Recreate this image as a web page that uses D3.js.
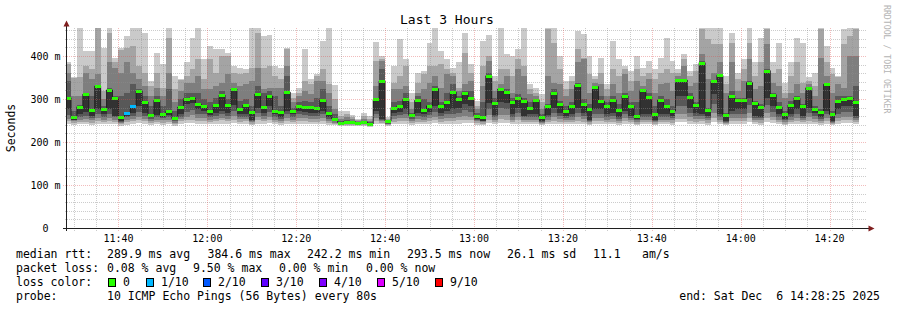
<!DOCTYPE html>
<html><head><meta charset="utf-8">
<script src="https://cdn.jsdelivr.net/npm/d3@7"></script>
<style>
body{margin:0;background:#fff}
text{font-family:"DejaVu Sans Mono",monospace;white-space:pre}
</style>
</head><body>
<svg id="c" width="897" height="310"></svg>
<script>
// ---------- data (ms) : 10 sorted pings per 80s step, p6 = median ----------
const med = [303,257,282,311,274,330,276,321,302,259,268,284,319,293,263,297,264,271,255,281,301,302,288,283,271,286,309,285,323,276,286,270,311,281,
307,272,270,316,272,284,282,282,280,298,268,254,245,247,247,245,247,242.2,299,342,249,280,284,299,262,297,274,284,324,284,292,316,301,315,
303,261,259,354,290,323,316,293,303,295,280,298,257,284,315,288,271,284,332,289,276,329,295,284,298,274,307,284,261,321,305,264,298,284,
272,344,344,305,285,384.6,274,341,355,263,307,298,298,338,290,282,366,310,281,264,286,302,284,326,276,270,334,264,296,299,302,293.5];
const p10 = [385,352,465,412,412,465,419,465,396,419,447,465,465,454,342,408,381,465,354,346,385,443,465,392,423,416,416,408,377,373,369,465,465,447,
448,377,373,419,315,326,416,346,357,435,465,332,272,272,262,253,268,261,433,400,257,377,439,392,315,361,365,431,465,412,392,373,385,454,
381,295,435,448,354,465,404,400,416,465,334,326,311,465,465,400,342,354,458,450,400,354,396,334,435,392,377,365,400,373,388,369,396,443,
388,369,404,365,381,465,465,465,465,354,454,361,392,465,385,443,465,385,431,338,385,443,431,352,361,465,423,373,354,462,465,465];
const p9 = [381,348,350,377,369,464,319,454,385,415,419,423,377,361,330,361,326,443,323,344,354,369,392,346,392,361,400,400,361,357,361,373,454,373,
377,354,346,417,303,315,342,334,354,369,334,299,261,264,257,250,261,253,388,392,253,338,354,377,292,338,357,377,377,381,369,361,326,408,
361,284,377,400,342,369,369,354,392,377,323,315,292,462,431,369,323,342,416,396,357,346,361,323,369,354,369,342,369,354,361,346,361,369,
361,361,392,354,365,462,439,427,427,334,431,346,369,431,354,385,462,361,369,315,354,385,338,342,330,462,385,357,350,427,447,462];
const p8 = [361,307,307,361,346,357,299,385,373,361,385,361,346,330,307,326,307,361,292,319,338,338,354,323,323,330,338,357,338,330,334,342,373,323,
326,326,326,377,292,307,319,311,342,342,315,276,253,257,253,248,253,249,330,388,251,323,323,330,276,315,323,338,354,326,357,354,319,334,
342,276,330,388,319,334,354,315,369,354,311,307,276,354,338,334,307,323,385,392,315,338,334,307,334,315,357,319,342,330,346,315,334,338,
319,354,377,330,338,404,346,361,385,315,385,319,342,392,323,330,427,338,330,303,315,334,315,334,307,396,354,315,334,326,400,400];
const p7 = [342,272,286,315,307,332,284,325,307,307,315,334,323,307,284,307,284,323,272,299,315,315,315,299,292,303,319,299,326,295,299,284,330,315,
319,307,284,354,280,292,295,292,303,323,284,264,249,250,249,247,249,247,303,369,250,292,295,315,268,307,299,292,330,292,315,334,307,319,
319,267,292,361,303,326,323,303,311,303,292,300,264,288,323,295,284,292,338,299,288,331,307,292,307,288,315,292,292,324,315,284,307,299,
284,346,346,315,292,388,280,344,358,268,319,303,303,342,295,288,369,315,292,272,295,307,288,329,284,276,338,272,307,307,307,330];
const p5 = [276,252,264,270,261,276,264,276,261,249,261,268,284,268,257,262,259,262,251,264,288,290,276,272,262,267,272,267,285,264,264,251,280,268,
284,264,257,272,264,272,270,267,267,272,257,251,243,244,244,243,244,241,272,253,245,267,270,276,257,267,264,270,284,267,272,276,280,288,
284,254,249,290,262,292,290,264,280,261,264,264,249,262,278,268,261,264,280,268,251,276,276,264,267,257,272,261,253,264,264,251,264,264,
261,307,307,280,267,265,261,311,264,249,272,276,276,303,261,259,303,284,264,253,264,276,261,280,267,257,272,249,276,284,284,261];
const p4 = [262,250,258,261,256,266,258,266,257,247,257,261,270,261,253,257,255,257,248,258,270,275,265,264,257,261,264,261,272,258,259,249,268,261,
270,258,253,264,258,264,263,260,260,264,253,248,241,242,242,241,242,240,264,250,243,260,263,266,253,260,258,263,270,260,264,266,268,274,
270,251,248,276,257,278,276,258,268,257,258,258,247,257,267,261,256,258,268,261,249,266,266,258,260,253,264,256,250,258,258,249,258,258,
256,284,284,268,260,260,256,288,258,247,264,266,266,286,256,255,286,270,258,250,258,266,256,268,260,253,264,247,266,270,270,256];
const p3 = [254,248,252,253,250,255,252,256,252,245,252,254,258,254,249,252,250,252,245,253,258,262,256,256,252,254,256,254,260,253,254,246,258,254,
258,252,249,255,252,255,255,253,253,255,249,245,240,241,241,240,241,239,255,248,242,253,255,256,249,253,252,255,258,253,255,256,258,260,
258,248,246,262,252,263,262,252,258,252,252,252,245,252,257,253,251,252,257,253,246,256,256,252,253,249,255,251,246,252,252,246,252,252,
250,266,266,257,253,254,250,268,252,245,255,256,256,268,251,250,268,258,252,246,252,256,251,257,253,249,255,245,256,258,258,251];
const p2 = [248,244,246,247,245,248,246,249,247,242,246,248,250,248,245,247,245,246,242,248,250,252,249,248,246,248,250,248,251,247,248,243,250,248,
250,246,245,248,246,248,248,247,247,248,245,242,239,239,240,239,240,238,248,245,240,247,248,249,245,247,246,248,250,247,248,249,250,251,
250,244,243,252,246,253,252,246,250,246,246,246,242,246,249,247,246,246,249,247,243,249,249,246,247,245,248,246,243,246,246,243,246,246,
245,254,254,249,247,248,245,255,246,242,248,249,249,255,246,245,255,250,246,243,246,249,246,249,247,245,248,242,249,250,250,246];
const p1 = [243,240,241,242,240,243,241,243,242,238,240,242,244,243,240,242,240,241,238,242,244,245,243,242,241,242,243,242,244,241,242,239,243,242,
244,241,240,242,241,242,242,242,242,242,240,239,237,237,238,237,238,236,242,241,238,242,242,243,240,242,241,242,244,242,242,243,243,244,
244,240,239,245,241,245,245,241,243,241,241,241,239,241,243,242,241,241,243,242,239,243,243,241,242,240,242,241,239,241,241,239,241,241,
240,246,246,243,242,242,240,246,241,239,242,243,243,246,241,240,246,244,241,239,241,243,241,243,242,240,242,239,243,244,244,241];
// lost pings per step (of 10)
const loss = [0,0,0,0,0,0,0,0,0,0,0.95,0.12];

const yTickValues = [0,100,200,300,400];
const yTickLabels = ["0  ","100 m","200 m","300 m","400 m"];
const xTickLabels = ["11:40","12:00","12:20","12:40","13:00","13:20","13:40","14:00","14:20"];
const lossLabels = ["0","1/10","2/10","3/10","4/10","5/10","9/10"];
const lossColors = ["#26ff00","#00b8ff","#0059ff","#5e00ff","#7e00ff","#dd00ff","#ff0000"];
const lossLimits = [0,1,2,3,4,5,10];
const rttStats = ["289.9 ms avg","384.6 ms max","242.2 ms min","293.5 ms now","26.1 ms sd","11.1","am/s"];
const lossStats = ["0.08 % avg","9.50 % max","0.00 % min","0.00 % now"];
const probeText = "10 ICMP Echo Pings (56 Bytes) every 80s";
const endText = "end: Sat Dec  6 14:28:25 2025";

// ---------- layout ----------
const L=67, R=867, T=28, B=228;
const start = new Date(2025,11,6,11,28,25), end = new Date(2025,11,6,14,28,25);
const x = d3.scaleTime().domain([start,end]).range([L,R]);
const y = d3.scaleLinear().domain([0,465.1]).range([B,T]);
const svg = d3.select("#c");
svg.append("rect").attr("width",897).attr("height",310).attr("fill","#fff");
svg.append("defs").append("clipPath").attr("id","pc").append("rect")
  .attr("x",L).attr("y",T).attr("width",R-L).attr("height",B-T);

const P=[p1,p2,p3,p4,p5,med,p7,p8,p9,p10];
const cols = med.map((m,k)=>{
  const e = new Date(+start + (54+80*k)*1000);
  const b = new Date(Math.max(+start, +e-80000));
  return {k,b,e};
});
const smokeCol = ["#cacaca","#a4a4a4","#7e7e7e","#585858","#323232"];
const g = svg.append("g").attr("clip-path","url(#pc)");
smokeCol.forEach((c,i)=>{
  g.append("g").attr("shape-rendering","crispEdges").selectAll("rect").data(cols).join("rect")
   .attr("x",d=>x(d.b)).attr("width",d=>x(d.e)-x(d.b))
   .attr("y",d=>y(P[9-i][d.k])).attr("height",d=>y(P[i][d.k])-y(P[9-i][d.k]))
   .attr("fill",c);
});
// median line
const pts=[]; cols.forEach(d=>{pts.push([x(d.b),y(med[d.k])]);pts.push([x(d.e),y(med[d.k])]);});
g.append("path").attr("d",d3.line()(pts)).attr("fill","none").attr("stroke","#202020").attr("stroke-width",1);
// loss coloured median bars
function lossColor(v){for(let i=0;i<lossLimits.length;i++){if(v<=lossLimits[i])return lossColors[i];}return lossColors[6];}
g.append("g").attr("shape-rendering","crispEdges").selectAll("rect").data(cols).join("rect")
  .attr("x",d=>x(d.b)).attr("width",d=>x(d.e)-x(d.b))
  .attr("y",d=>Math.round(y(med[d.k]))-1.5).attr("height",3)
  .attr("fill",d=>lossColor(loss[d.k]||0));

// ---------- grid (on top) ----------
const grid = svg.append("g").attr("shape-rendering","crispEdges");
const minorC="rgba(143,143,143,0.45)", majorC="rgba(222,79,79,0.38)";
d3.range(20,465,20).forEach(v=>{
  const yy=Math.round(y(v))+0.5, major=v%100===0;
  grid.append("line").attr("x1",major?63:65).attr("x2",R).attr("y1",yy).attr("y2",yy)
   .attr("stroke",major?majorC:minorC).attr("stroke-dasharray","1,1");
});
d3.timeMinute.every(5).range(start,end).forEach(t=>{
  const xx=Math.round(x(t))+0.5, major=t.getMinutes()%20===0;
  grid.append("line").attr("x1",xx).attr("x2",xx).attr("y1",T).attr("y2",B+3)
   .attr("stroke",major?majorC:minorC).attr("stroke-dasharray","1,1");
});
// axes
svg.append("line").attr("x1",63).attr("x2",871).attr("y1",B+0.5).attr("y2",B+0.5).attr("stroke","#1f1f1f").attr("shape-rendering","crispEdges");
svg.append("line").attr("x1",L-0.5).attr("x2",L-0.5).attr("y1",B+3).attr("y2",24).attr("stroke","#1f1f1f").attr("shape-rendering","crispEdges");
svg.append("path").attr("d",`M${L-3.5},26.5 L${L-0.5},20.5 L${L+2.5},26.5 Z`).attr("fill","#801f1f");
svg.append("path").attr("d",`M868.5,${B-2.5} L874.5,${B+0.5} L868.5,${B+3.5} Z`).attr("fill","#801f1f");

// tick labels
yTickValues.forEach((v,i)=>{
  svg.append("text").attr("x",60.5).attr("y",Math.round(y(v))+4).attr("text-anchor","end")
   .attr("font-size","10px").attr("fill","#000").text(yTickLabels[i]);
});
const pt = d3.timeParse("%Y-%m-%d %H:%M");
xTickLabels.forEach(s=>{
  svg.append("text").attr("x",x(pt("2025-12-06 "+s))).attr("y",241.5).attr("text-anchor","middle")
   .attr("font-size","10px").attr("fill","#000").text(s);
});
// titles
svg.append("text").attr("x",447).attr("y",24).attr("text-anchor","middle").attr("font-size","13px").text("Last 3 Hours");
svg.append("text").attr("transform","translate(15,128) rotate(-90)").attr("text-anchor","middle").attr("font-size","11.5px").text("Seconds");
svg.append("text").attr("transform","translate(884,5) rotate(90)").attr("font-size","8.2px").attr("fill","#b4b4b4").text("RRDTOOL / TOBI OETIKER");

// legend
const fs="11.5px";
function tx(xx,yy,s,anchor){svg.append("text").attr("x",xx).attr("y",yy).attr("font-size",fs).attr("text-anchor",anchor||"start").text(s);}
tx(16,258,"median rtt:");
[107,207.5,307,407,507,593,642].forEach((xx,i)=>tx(xx,258,rttStats[i]));
tx(16,272,"packet loss:");
[107,193,279,366].forEach((xx,i)=>tx(xx,272,lossStats[i]));
tx(16,286,"loss color:");
[108,146,203,261,319,377,435].forEach((xx,i)=>{
  svg.append("rect").attr("x",xx+0.5).attr("y",278.5).attr("width",7).attr("height",8)
   .attr("fill",lossColors[i]).attr("stroke","#000").attr("stroke-width",1).attr("shape-rendering","crispEdges");
  tx(xx+15,286,lossLabels[i]);
});
tx(16,300,"probe:");
tx(107,300,probeText);
tx(880,300,endText,"end");
</script>
</body></html>
